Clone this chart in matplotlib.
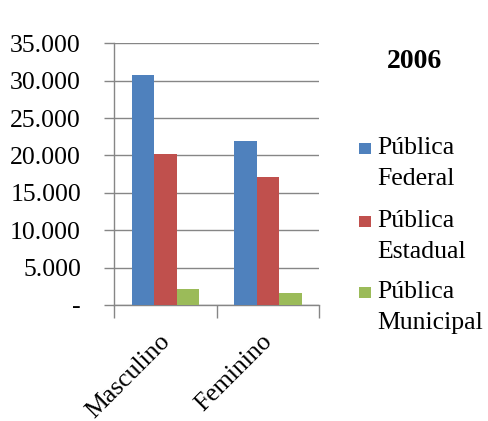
import matplotlib
matplotlib.use("Agg")
import matplotlib.pyplot as plt
from matplotlib.patches import Rectangle
import numpy as np

categories = ["Masculino", "Feminino"]
series_names = ["Pública\nFederal", "Pública\nEstadual", "Pública\nMunicipal"]
federal = [30750, 21900]
estadual = [20250, 17100]
municipal = [2100, 1550]
values = [federal, estadual, municipal]
colors = ["#4F81BD", "#C0504D", "#9BBB59"]
yticks = [0, 5000, 10000, 15000, 20000, 25000, 30000, 35000]
ytick_labels = ["-", "5.000", "10.000", "15.000", "20.000", "25.000", "30.000", "35.000"]
title = "2006"

plt.rcParams['font.family'] = ['Liberation Serif', 'DejaVu Serif']
W, H = 489, 421
fig = plt.figure(figsize=(W/100, H/100), dpi=100)
ax = fig.add_axes([114.3/W, 1-305/H, (319.3-114.3)/W, (305-43.3)/H])

x = np.arange(len(categories))
bw = 0.219
for i, (vals, c) in enumerate(zip(values, colors)):
    ax.bar(x + (i-1)*bw, vals, bw, color=c, zorder=3, linewidth=0)

ax.set_xlim(-0.5, 1.5)
ax.set_ylim(0, 35000)
ax.set_yticks(yticks)
ax.set_yticklabels(ytick_labels, fontsize=18.5)
ax.grid(axis='y', color='#868686', linewidth=1, zorder=0)
for s in ['top', 'right']:
    ax.spines[s].set_visible(False)
for s in ['left', 'bottom']:
    ax.spines[s].set_color('#868686')
    ax.spines[s].set_linewidth(1)
ax.tick_params(axis='y', length=7, color='#868686', pad=17, width=1)
ax.set_xticks([-0.5, 0.5, 1.5])
ax.set_xticklabels([])
ax.tick_params(axis='x', length=9, color='#868686', width=1)

for xi, cat in zip(x, categories):
    ax.annotate(cat, xy=(xi, 0), xycoords=('data', 'axes fraction'),
                xytext=(-7, -25), textcoords='offset pixels',
                rotation=45, rotation_mode='anchor', ha='right', va='top',
                fontsize=18.5)

fig.text(415/W, 1-62/H, title, ha='center', va='center', fontsize=20, fontweight='bold')

sq_centers = [148, 221, 292]
for name, c, yc in zip(series_names, colors, sq_centers):
    fig.add_artist(Rectangle((359/W, 1-(yc+5.5)/H), 12/W, 11/H, transform=fig.transFigure,
                             facecolor=c, edgecolor='none'))
    fig.text(377/W, 1-(yc-11)/H, name, ha='left', va='top', fontsize=18.5, linespacing=1.55)

fig.savefig("out.png", dpi=100)
